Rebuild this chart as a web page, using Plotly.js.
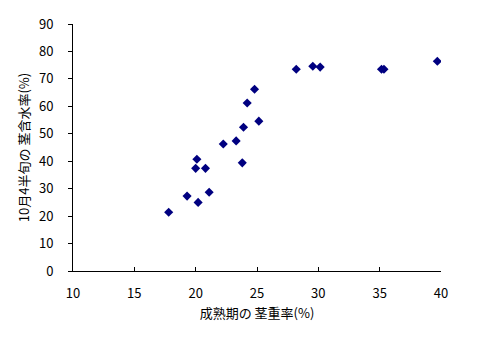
<!DOCTYPE html>
<html>
<head>
<meta charset="utf-8">
<script src="https://cdn.plot.ly/plotly-3.0.1.min.js"></script>
<style>html,body{margin:0;padding:0;background:#fff;}</style>
</head>
<body>
<div id="chart" style="width:490px;height:342px;"></div>
<script>
const stemWeightRatio = [17.8, 19.3, 20.2, 21.1, 20.0, 20.8, 20.1, 22.25, 23.3, 23.8, 23.9, 25.15, 24.2, 24.8, 28.2, 29.55, 30.15, 35.15, 35.35, 39.7];
const stemWaterContent = [21.4, 27.3, 25.0, 28.7, 37.4, 37.4, 40.7, 46.3, 47.4, 39.4, 52.4, 54.6, 61.2, 66.2, 73.5, 74.6, 74.3, 73.5, 73.5, 76.4];
const xTickVals = [10, 15, 20, 25, 30, 35, 40];
const yTickVals = [0, 10, 20, 30, 40, 50, 60, 70, 80, 90];
const xTitle = "成熟期の 茎重率(%)";
const yTitle = "10月4半旬の 茎含水率(%)";

const font = "'Noto Sans CJK JP', 'Liberation Sans', sans-serif";

Plotly.newPlot("chart", [{
  type: "scatter",
  mode: "markers",
  x: stemWeightRatio,
  y: stemWaterContent,
  marker: {symbol: "diamond", size: 7, color: "#000080"},
  hoverinfo: "skip"
}], {
  width: 490, height: 342,
  margin: {l: 73, r: 49, t: 24, b: 71},
  paper_bgcolor: "#ffffff",
  plot_bgcolor: "#ffffff",
  showlegend: false,
  font: {family: font, size: 13, color: "#000"},
  xaxis: {
    range: [10, 40],
    tickvals: xTickVals,
    ticks: "inside", ticklen: 4, tickcolor: "#000",
    ticklabelstandoff: 10,
    showline: true, linecolor: "#000", linewidth: 1,
    showgrid: false, zeroline: false,
    title: {text: xTitle, font: {family: font, size: 13}, standoff: 8},
    tickfont: {family: font, size: 13}
  },
  yaxis: {
    range: [0, 90],
    tickvals: yTickVals,
    ticks: "outside", ticklen: 4, tickcolor: "#000",
    ticklabelstandoff: 12,
    showline: true, linecolor: "#000", linewidth: 1,
    showgrid: false, zeroline: false,
    title: {text: yTitle, font: {family: font, size: 13}, standoff: 6},
    tickfont: {family: font, size: 13}
  }
}, {displayModeBar: false, staticPlot: true});
</script>
</body>
</html>
